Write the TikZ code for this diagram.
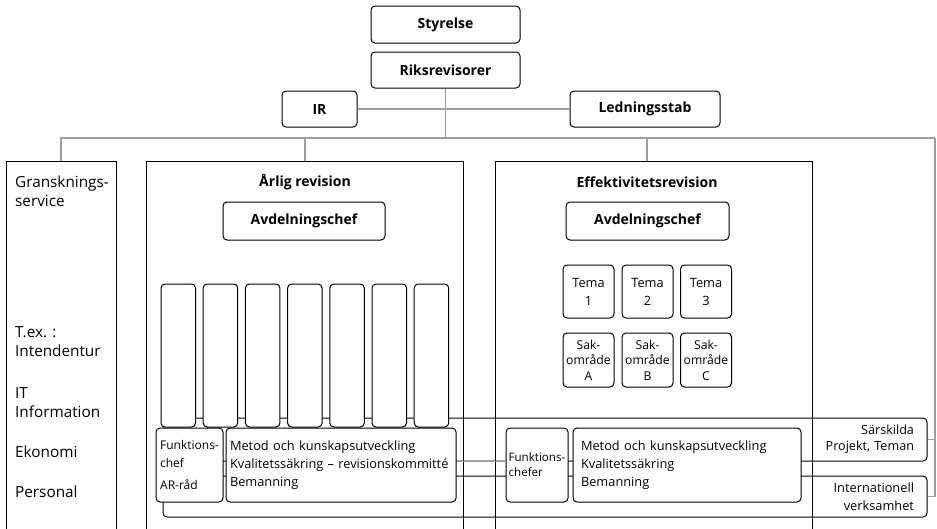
\documentclass[tikz,border=0pt]{standalone}
\usepackage{fontspec}
\setmainfont{Open Sans}
\definecolor{lgray}{RGB}{158,158,158}
\begin{document}
\begin{tikzpicture}[x=1pt,y=-1pt,
  bx/.style={draw, fill=white, rounded corners=4pt, inner sep=0pt, line width=1pt},
  obx/.style={draw, rounded corners=4pt, inner sep=0pt, line width=1pt},
  big/.style={draw, line width=1pt, inner sep=0pt, anchor=north west, minimum height=380pt},
  ttl/.style={font=\bfseries\fontsize{14}{16}\selectfont},
  txt/.style={font=\fontsize{12.8}{18}\selectfont},
  side/.style={font=\fontsize{15.3}{19}\selectfont, anchor=west, align=left, inner sep=0pt},
  gl/.style={draw=lgray, line width=1.9pt},
  bl/.style={line width=1pt}]
\useasboundingbox (0,0) rectangle (937,528);
\clip (0,0) rectangle (937,528);

% top boxes
\node[bx, ttl, minimum width=149pt, minimum height=37pt] (sty) at (445.5,24.5) {Styrelse};
\node[bx, ttl, minimum width=149pt, minimum height=36pt] (riks) at (445.5,70) {Riksrevisorer};
\node[bx, ttl, minimum width=75pt, minimum height=36pt] (ir) at (319.5,109) {IR};
\node[bx, ttl, minimum width=150pt, minimum height=36pt] (led) at (645,109) {Ledningsstab};

% large boxes
\node[big, minimum width=110pt] (gsbox) at (6,161) {};
\node[big, minimum width=317pt] (arbox) at (146,161) {};
\node[big, minimum width=317pt] (effbox) at (495,161) {};

% gray bus
\coordinate (busL) at (61,138);
\coordinate (busR) at (935,138);
\node[ttl] (artitle) at (305,182) {Årlig revision};
\node[ttl] (efftitle) at (647,182) {Effektivitetsrevision};

\draw[gl] (riks.south) -- (riks.south |- busL);
\draw[gl] (ir.east) -- (led.west);
\draw[gl] (gsbox.north -| busL) -- (busL) -- (busR);
\draw[gl] (artitle |- busL) -- (artitle |- arbox.north);
\draw[gl] (efftitle |- busL) -- (efftitle |- effbox.north);

% side texts
\node[side] (gs1) at (15,191) {Gransknings-\\service};
\node[side] (gs2) at (15,342) {T.ex. :\\Intendentur};
\node[side] (gs3) at (15,402.5) {IT\\Information};
\node[side] (gs4) at (15,452) {Ekonomi};
\node[side] (gs5) at (15,492) {Personal};

% department heads
\node[bx, ttl, minimum width=162pt, minimum height=38pt] (avdar) at (304,221) {Avdelningschef};
\node[bx, ttl, minimum width=163pt, minimum height=38pt] (avdeff) at (647.5,221) {Avdelningschef};

% bands
\node[obx, minimum width=764pt, minimum height=43pt, text width=738pt, align=right, inner xsep=13pt, font=\fontsize{12.6}{16}\selectfont] (sars) at (545,439.5) {Särskilda\\Projekt, Teman};
\node[obx, txt, minimum width=764pt, minimum height=41pt, text width=738pt, align=right, inner xsep=13pt] (intl) at (545,496.5) {Internationell\\verksamhet};
\draw[gl] (busR) -- (intl.east -| busR) -- (intl.east);
\draw[gl] (sars.east -| busR) -- (sars.east);

% columns
\foreach \i in {0,...,6}
  \node[bx, minimum width=34.5pt, minimum height=143pt] (col\i) at ({178.25+42.2*\i},355.5) {};

% tema and sak
\foreach \n/\x in {1/588.5,2/647.5,3/706}
  \node[bx, txt, minimum width=51pt, minimum height=53pt, align=center] (tema\n) at (\x,291.5) {Tema\\\n};
\foreach \n/\l/\x in {1/A/588.5,2/B/647.5,3/C/706}
  \node[bx, minimum width=51pt, minimum height=54pt, align=center, font=\fontsize{12.2}{15.5}\selectfont] (sak\n) at (\x,360) {Sak-\\område\\\l};

% bottom boxes
\node[bx, minimum width=67pt, minimum height=74pt, align=left, font=\fontsize{12}{18}\selectfont] (arf) at (189.5,465) {Funktions-\\chef\\[4pt]AR-råd};
\node[bx, txt, minimum width=228pt, minimum height=74pt, text width=222pt, inner xsep=4pt, align=left] (armet) at (341,465) {Metod och kunskapsutveckling\\Kvalitetssäkring – revisionskommitté\\Bemanning};
\node[bx, minimum width=62pt, minimum height=74pt, align=left, font=\fontsize{11.6}{15}\selectfont] (efff) at (537,465) {Funktions-\\chefer};
\node[bx, txt, minimum width=228pt, minimum height=74pt, text width=212pt, inner xsep=8pt, align=left] (effmet) at (687,465) {Metod och kunskapsutveckling\\Kvalitetssäkring\\Bemanning};

\draw[gl] (armet.east |- sars.south) -- (efff.west |- sars.south);
\end{tikzpicture}
\end{document}
